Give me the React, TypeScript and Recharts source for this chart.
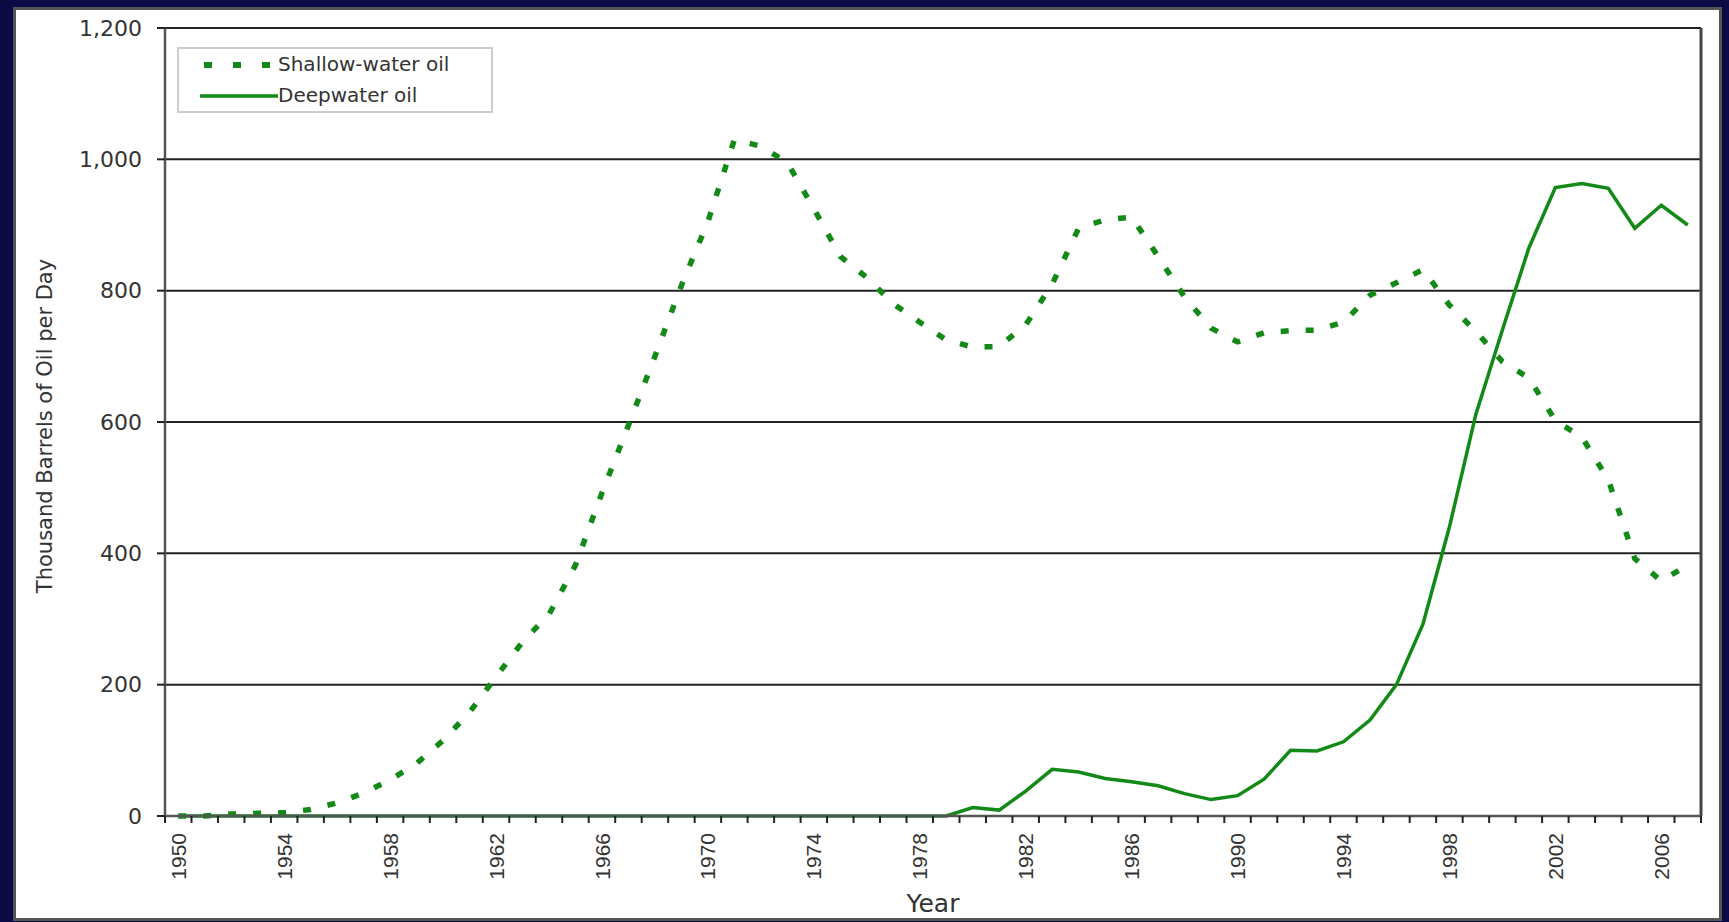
import React from 'react';
import { LineChart, Line, XAxis, YAxis, CartesianGrid, Legend, ReferenceLine } from 'recharts';

const years = [
  1950, 1951, 1952, 1953, 1954, 1955, 1956, 1957, 1958, 1959,
  1960, 1961, 1962, 1963, 1964, 1965, 1966, 1967, 1968, 1969,
  1970, 1971, 1972, 1973, 1974, 1975, 1976, 1977, 1978, 1979,
  1980, 1981, 1982, 1983, 1984, 1985, 1986, 1987, 1988, 1989,
  1990, 1991, 1992, 1993, 1994, 1995, 1996, 1997, 1998, 1999,
  2000, 2001, 2002, 2003, 2004, 2005, 2006, 2007,
];

const shallowWater = [
  0, 0, 3, 4, 5, 10, 20, 35, 55, 80,
  115, 158, 212, 265, 307, 382, 492, 595, 700, 808,
  905, 1030, 1020, 995, 925, 852, 820, 780, 752, 725,
  714, 715, 748, 810, 895, 908, 912, 852, 790, 743,
  722, 736, 739, 740, 752, 793, 812, 832, 778, 738,
  692, 667, 602, 577, 512, 392, 358, 382,
];

const deepwater = [
  0, 0, 0, 0, 0, 0, 0, 0, 0, 0,
  0, 0, 0, 0, 0, 0, 0, 0, 0, 0,
  0, 0, 0, 0, 0, 0, 0, 0, 0, 0,
  13, 9, 38, 71, 67, 57, 52, 46, 34, 25,
  31, 56, 100, 99, 113, 146, 200, 292, 440, 612,
  740, 865, 957, 963, 956, 895, 930, 900,
];

const seriesNames = ['Shallow-water oil', 'Deepwater oil'];
const yTicks = [0, 200, 400, 600, 800, 1000, 1200];
const xLabelYears = [1950, 1954, 1958, 1962, 1966, 1970, 1974, 1978, 1982, 1986, 1990, 1994, 1998, 2002, 2006];
const yAxisTitle = 'Thousand Barrels of Oil per Day';
const xAxisTitle = 'Year';

const data = years.map((year, i) => ({ year, shallow: shallowWater[i], deep: deepwater[i] }));

const W = 1729;
const H = 922;
const PLOT_LEFT = 165;
const PLOT_RIGHT = 1701;
const PLOT_TOP = 28;
const PLOT_BOTTOM = 816;
const BAND = (PLOT_RIGHT - PLOT_LEFT) / years.length;
const GREEN = '#138a17';
const TEXT = '#333333';
const WIDE_FONT = '"DejaVu Sans", Verdana, sans-serif';
const NARROW_FONT = '"Liberation Sans", Arial, sans-serif';

function XTick(props: any) {
  const { x, y, payload } = props;
  const yr = payload.value;
  const showLabel = xLabelYears.includes(yr);
  const isLast = yr === years[years.length - 1];
  const ly = y + 17;
  return (
    <g>
      <line x1={x - BAND / 2} x2={x - BAND / 2} y1={y} y2={y + 7} stroke="#222" strokeWidth={2} />
      {isLast && <line x1={x + BAND / 2} x2={x + BAND / 2} y1={y} y2={y + 7} stroke="#222" strokeWidth={2} />}
      {showLabel && (
        <text
          x={x}
          y={ly}
          transform={`rotate(-90 ${x} ${ly})`}
          textAnchor="end"
          dy="0.36em"
          fill={TEXT}
          fontSize={21}
          fontFamily={NARROW_FONT}
        >
          {yr}
        </text>
      )}
    </g>
  );
}

function YTitle() {
  const x = 52;
  const y = 426;
  return (
    <text x={x} y={y} transform={`rotate(-90 ${x} ${y})`} textAnchor="middle" fill={TEXT} fontSize={21} fontFamily={WIDE_FONT}>
      {yAxisTitle}
    </text>
  );
}

function XTitle() {
  return (
    <text x={(PLOT_LEFT + PLOT_RIGHT) / 2} y={912} textAnchor="middle" fill={TEXT} fontSize={25} fontFamily={WIDE_FONT}>
      {xAxisTitle}
    </text>
  );
}

function renderLegend(props: any) {
  const payload = [...(props.payload || [])].sort(
    (a: any, b: any) => seriesNames.indexOf(a.value) - seriesNames.indexOf(b.value)
  );
  return (
    <div
      style={{
        width: 316,
        height: 66,
        boxSizing: 'border-box',
        border: '2px solid #cdcdcd',
        background: '#fff',
        fontFamily: WIDE_FONT,
        fontSize: 20,
        color: TEXT,
      }}
    >
      {payload.map((entry: any) => {
        const dashed = entry.value === seriesNames[0];
        return (
          <div key={entry.value} style={{ height: 31, display: 'flex', alignItems: 'center', paddingLeft: 21 }}>
            <svg width={78} height={12} style={{ display: 'block' }}>
              {dashed ? (
                <line x1={4} x2={70} y1={6} y2={6} stroke={GREEN} strokeWidth={6} strokeDasharray="8 21" />
              ) : (
                <line x1={0} x2={78} y1={6} y2={6} stroke={GREEN} strokeWidth={3.5} />
              )}
            </svg>
            <span style={{ whiteSpace: 'nowrap', lineHeight: '31px' }}>{entry.value}</span>
          </div>
        );
      })}
    </div>
  );
}

export default function App() {
  return (
    <div style={{ position: 'absolute', left: 0, top: 0, width: W, height: H, background: '#0c0b46', overflow: 'hidden' }}>
      <div
        style={{
          position: 'absolute',
          left: 13,
          top: 7,
          width: 1709,
          height: 914,
          background: '#ffffff',
          border: '3px solid #555',
          boxSizing: 'border-box',
        }}
      />
      <div style={{ position: 'absolute', left: 0, top: 0 }}>
        <LineChart
          width={W}
          height={H}
          data={data}
          margin={{ top: PLOT_TOP, right: W - PLOT_RIGHT, bottom: 0, left: 0 }}
        >
          <CartesianGrid horizontal vertical={false} stroke="#222" strokeWidth={2} />
          <XAxis
            dataKey="year"
            type="number"
            domain={[1949.5, 2007.5]}
            ticks={years}
            interval={0}
            height={H - PLOT_BOTTOM}
            tickLine={false}
            tickSize={0}
            tickMargin={0}
            tick={<XTick />}
            axisLine={{ stroke: '#555', strokeWidth: 2.5 }}
            label={<XTitle />}
            allowDataOverflow
          />
          <YAxis
            type="number"
            domain={[0, 1200]}
            ticks={yTicks}
            interval={0}
            width={PLOT_LEFT}
            tickSize={8}
            tickMargin={15}
            tickLine={{ stroke: '#222', strokeWidth: 2 }}
            axisLine={{ stroke: '#555', strokeWidth: 2.5 }}
            tick={{ fill: TEXT, fontSize: 22, fontFamily: WIDE_FONT }}
            tickFormatter={(v: number) => v.toLocaleString('en-US')}
            label={<YTitle />}
          />
          <ReferenceLine x={2007.5} stroke="#444" strokeWidth={3} />
          <Legend
            verticalAlign="middle"
            align="center"
            layout="horizontal"
            wrapperStyle={{ position: 'absolute', left: 177, top: 47, width: 316, height: 66 }}
            content={renderLegend}
          />
          <Line
            type="linear"
            dataKey="shallow"
            name={seriesNames[0]}
            stroke={GREEN}
            strokeWidth={5.5}
            strokeDasharray="8 17"
            dot={false}
            activeDot={false}
            isAnimationActive={false}
          />
          <Line
            type="linear"
            dataKey="deep"
            name={seriesNames[1]}
            stroke={GREEN}
            strokeWidth={3.5}
            dot={false}
            activeDot={false}
            isAnimationActive={false}
          />
        </LineChart>
      </div>
    </div>
  );
}
